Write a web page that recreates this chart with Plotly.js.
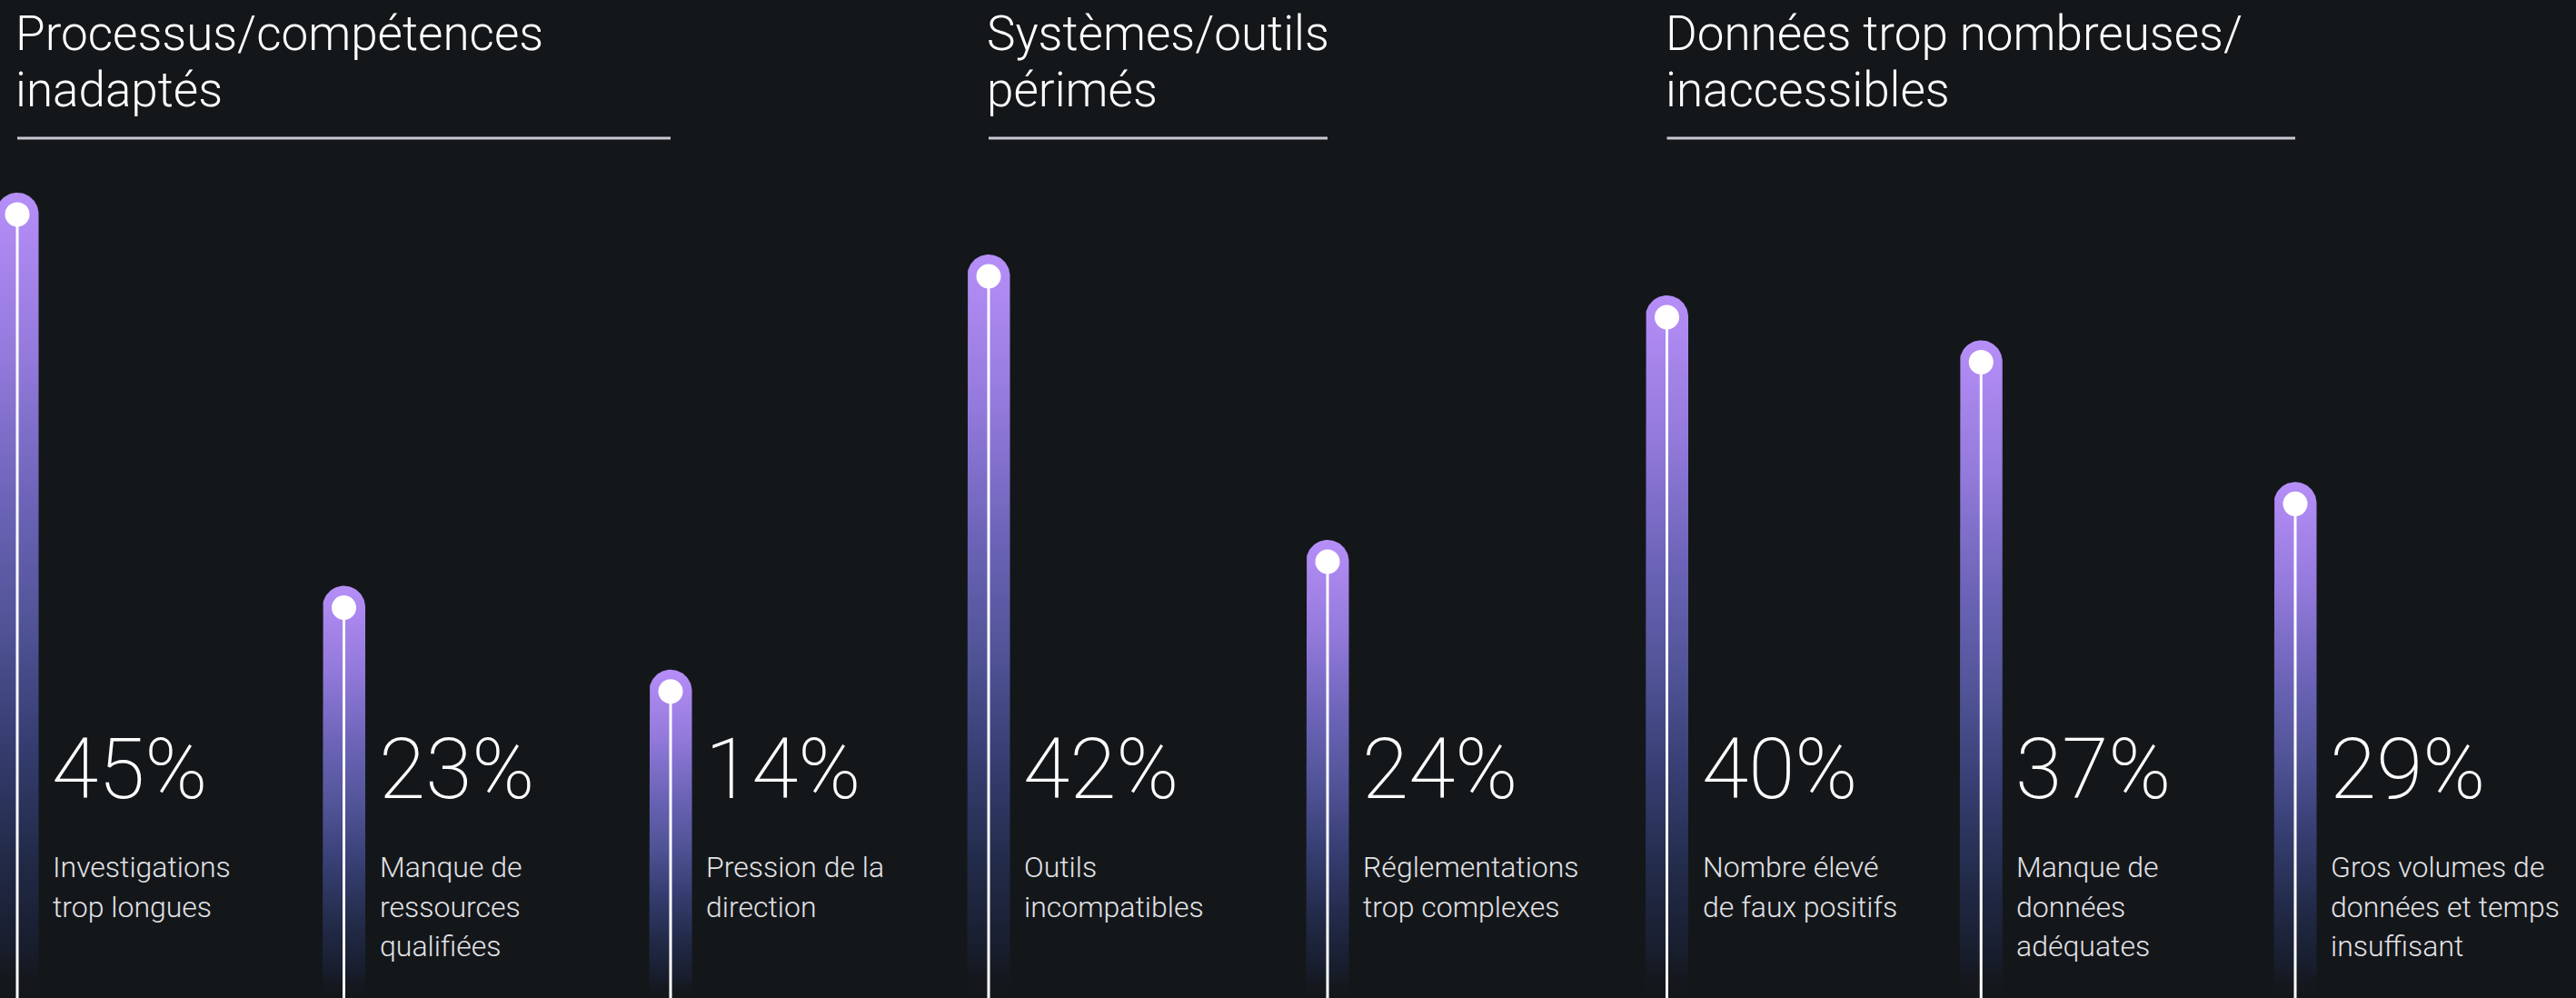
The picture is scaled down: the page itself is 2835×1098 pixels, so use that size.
<!DOCTYPE html>
<html>
<head>
<meta charset="utf-8">
<script src="https://cdn.plot.ly/plotly-3.0.1.min.js"></script>
<style>
  html, body { margin: 0; padding: 0; background: #14171a; }
  #chart { width: 2835px; height: 1098px; }
</style>
</head>
<body>
<div id="chart"></div>
<script>
// ---- data ----
const categories = [
  "Investigations<br>trop longues",
  "Manque de<br>ressources<br>qualifiées",
  "Pression de la<br>direction",
  "Outils<br>incompatibles",
  "Réglementations<br>trop complexes",
  "Nombre élevé<br>de faux positifs",
  "Manque de<br>données<br>adéquates",
  "Gros volumes de<br>données et temps<br>insuffisant"
];
const values = [45, 23, 14, 42, 24, 40, 37, 29];
// bar heights as drawn in the picture (% of panel height)
const barHeights = [80.7, 41.3, 32.9, 74.5, 45.9, 70.4, 65.9, 51.7];
const groupTitles = [
  "Processus/compétences<br>inadaptés",
  "Systèmes/outils<br>périmés",
  "Données trop nombreuses/<br>inaccessibles"
];
const groupFirst = [0, 3, 5];
const groupLast = [2, 4, 7];

// ---- layout constants (one column axis per group) ----
const W = 2835, H = 1098;
const colFirstPx = [19, 1088, 1834.5];
const colSpacingPx = [359.5, 373, 345.75];
const yRange = [0, 100];
const uyPerPx = (yRange[1] - yRange[0]) / H;
const capR = 23.5 * uyPerPx;
const dotOffset = 24 * uyPerPx;

const BG = "#14171a";
const FONT = "Roboto, 'Open Sans', sans-serif";

const gradient = [
  [0.00, "rgba(20,23,27,0)"],
  [0.06, "rgba(24,29,44,1)"],
  [0.16, "rgb(32,40,68)"],
  [0.32, "rgb(54,62,114)"],
  [0.47, "rgb(82,84,152)"],
  [0.62, "rgb(108,100,184)"],
  [0.80, "rgb(148,122,220)"],
  [1.00, "rgb(182,142,248)"]
];

const axisName = g => (g === 0 ? "x" : "x" + (g + 1));
const axisKey = g => (g === 0 ? "xaxis" : "xaxis" + (g + 1));
const groupOf = i => groupFirst.findIndex((f, g) => i >= f && i <= groupLast[g]);

const traces = [];
const annotations = [];
const shapes = [];
const layout = {
  width: W, height: H,
  margin: { l: 0, r: 0, t: 0, b: 0, pad: 0 },
  paper_bgcolor: BG, plot_bgcolor: BG,
  yaxis: { range: yRange, visible: false, fixedrange: true },
  showlegend: false,
  hovermode: false
};

groupTitles.forEach((t, g) => {
  const sp = colSpacingPx[g];
  const r0 = -colFirstPx[g] / sp;
  const ax = { range: [r0, r0 + W / sp], visible: false, fixedrange: true, domain: [0, 1] };
  if (g > 0) { ax.overlaying = "x"; ax.anchor = "y"; }
  layout[axisKey(g)] = ax;
});

function pyFromCenter(px) { return (H - px) / H; }
function addLines(text, xa, xIdx, xshift, firstCenterPx, lineGapPx, font) {
  text.split("<br>").forEach((line, k) => {
    annotations.push({
      xref: xa, yref: "paper", x: xIdx, y: pyFromCenter(firstCenterPx + k * lineGapPx),
      xanchor: "left", yanchor: "middle", xshift: xshift,
      text: line, showarrow: false, font: font, align: "left"
    });
  });
}

values.forEach((v, i) => {
  const g = groupOf(i);
  const xa = axisName(g);
  const j = i - groupFirst[g];
  const halfW = 23.5 / colSpacingPx[g];
  const top = barHeights[i];
  const xs = [j - halfW], ys = [0];
  const N = 40;
  for (let k = 0; k <= N; k++) {
    const t = Math.PI - Math.PI * k / N;
    xs.push(j + halfW * Math.cos(t));
    ys.push(top - capR + capR * Math.sin(t));
  }
  xs.push(j + halfW); ys.push(0);
  traces.push({
    type: "scatter", mode: "lines", x: xs, y: ys, xaxis: xa, yaxis: "y",
    fill: "toself", line: { width: 0, color: "rgba(0,0,0,0)" },
    fillgradient: { type: "vertical", colorscale: gradient, start: 0, stop: top },
    hoverinfo: "skip", showlegend: false
  });
  const yDot = top - dotOffset;
  traces.push({
    type: "scatter", mode: "lines", x: [j, j], y: [yRange[0] - 5, yDot], xaxis: xa, yaxis: "y",
    line: { color: "#ffffff", width: 3 }, hoverinfo: "skip", showlegend: false
  });
  traces.push({
    type: "scatter", mode: "markers", x: [j], y: [yDot], xaxis: xa, yaxis: "y",
    marker: { color: "#ffffff", size: 27, line: { width: 0 } },
    hoverinfo: "skip", showlegend: false
  });
  addLines(v + "%", xa, j, 36, 847, 0,
    { family: FONT, size: 93, color: "#ffffff", weight: 200 });
  addLines(categories[i], xa, j, 37, 954.5, 43,
    { family: FONT, size: 32, color: "#e2e2e6", weight: 300 });
});

groupTitles.forEach((t, g) => {
  const xa = axisName(g);
  addLines(t, xa, 0, -4, 37, 62,
    { family: FONT, size: 53, color: "#ffffff", weight: 300 });
  shapes.push({
    type: "line", xref: xa, yref: "paper",
    x0: 0, x1: groupLast[g] - groupFirst[g],
    y0: (H - 152) / H, y1: (H - 152) / H,
    line: { color: "#c8c8d2", width: 3 }
  });
});

layout.annotations = annotations;
layout.shapes = shapes;

Plotly.newPlot("chart", traces, layout, { staticPlot: true, displayModeBar: false });
</script>
</body>
</html>
